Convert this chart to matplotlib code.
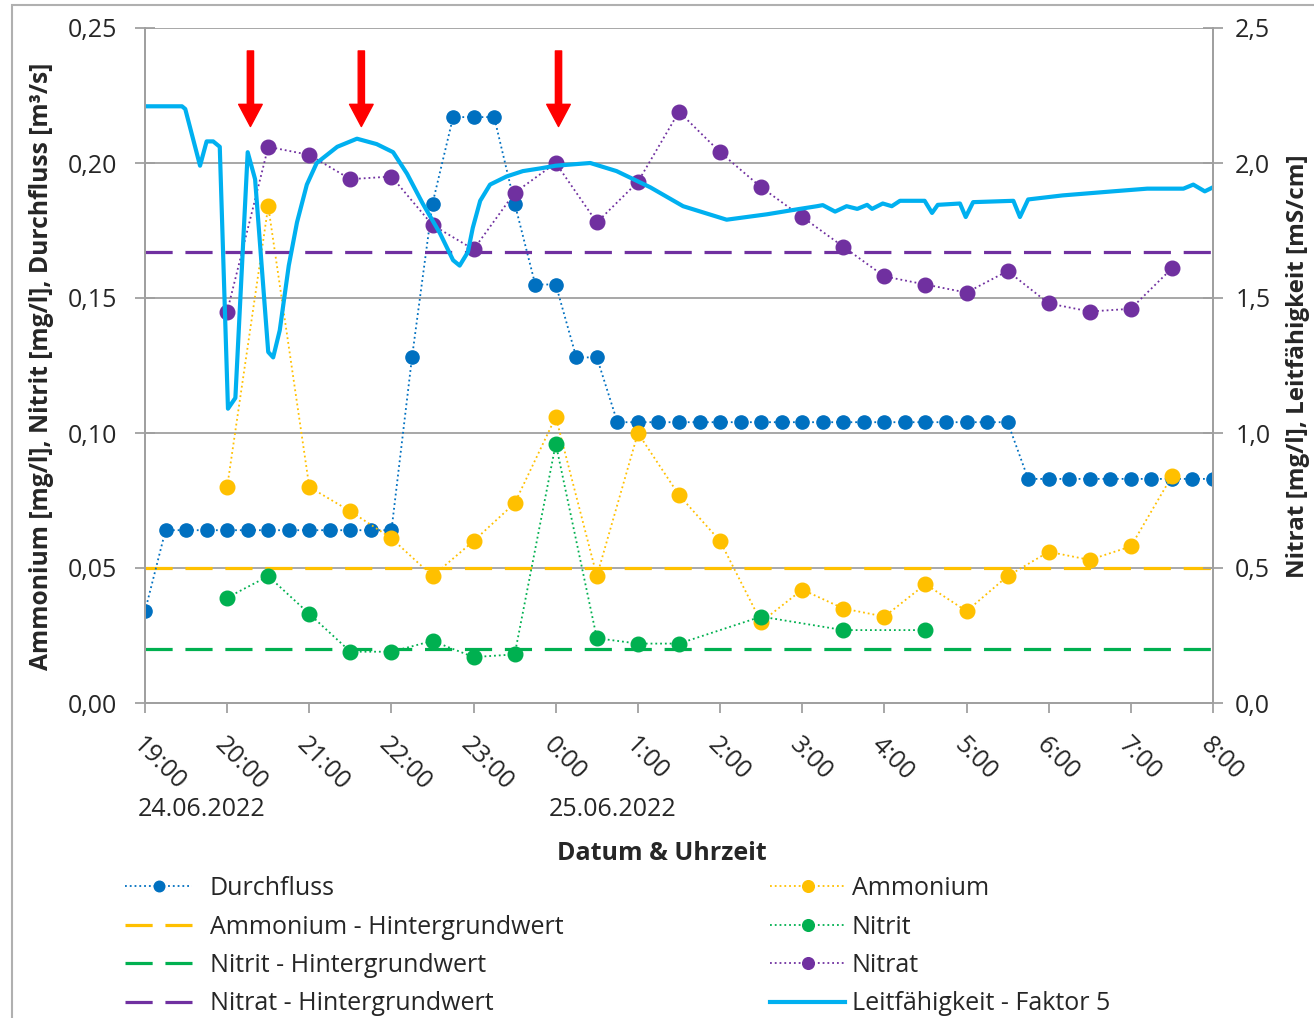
import matplotlib
matplotlib.use("Agg")
import matplotlib.pyplot as plt
from matplotlib.ticker import FuncFormatter, MultipleLocator
import matplotlib.dates as mdates
import pandas as pd

plt.rcParams['font.family'] = ['Open Sans', 'DejaVu Sans']
plt.rcParams['font.size'] = 18

# Durchfluss, alle 15 min von 19:00 bis 8:00
durchfluss_t = pd.date_range("2022-06-24 19:00", "2022-06-25 08:00", freq="15min")
durchfluss = ([0.034] + [0.064] * 12 + [0.128, 0.185, 0.217, 0.217, 0.217, 0.185,
              0.155, 0.155, 0.128, 0.128] + [0.104] * 20 + [0.083] * 10)

# Ammonium und Nitrat, halbstuendlich 20:00 bis 7:30
probe_t = pd.date_range("2022-06-24 20:00", "2022-06-25 07:30", freq="30min")
ammonium = [0.080, 0.184, 0.080, 0.071, 0.061, 0.047, 0.060, 0.074, 0.106, 0.047,
            0.100, 0.077, 0.060, 0.030, 0.042, 0.035, 0.032, 0.044, 0.034, 0.047,
            0.056, 0.053, 0.058, 0.084]
nitrat = [1.45, 2.06, 2.03, 1.94, 1.95, 1.77, 1.68, 1.89, 2.00, 1.78, 1.93, 2.19,
          2.04, 1.91, 1.80, 1.69, 1.58, 1.55, 1.52, 1.60, 1.48, 1.45, 1.46, 1.61]

nitrit_t = pd.to_datetime(["2022-06-24 20:00", "2022-06-24 20:30", "2022-06-24 21:00",
                           "2022-06-24 21:30", "2022-06-24 22:00", "2022-06-24 22:30",
                           "2022-06-24 23:00", "2022-06-24 23:30", "2022-06-25 00:00",
                           "2022-06-25 00:30", "2022-06-25 01:00", "2022-06-25 01:30",
                           "2022-06-25 02:30", "2022-06-25 03:30", "2022-06-25 04:30"])
nitrit = [0.039, 0.047, 0.033, 0.019, 0.019, 0.023, 0.017, 0.018, 0.096, 0.024,
          0.022, 0.022, 0.032, 0.027, 0.027]

# Leitfaehigkeit (x5), Stunden ab 19:00
leit_h = [0.0, 0.45, 0.49, 0.67, 0.75, 0.83, 0.91, 1.01, 1.10, 1.25, 1.34, 1.50, 1.56,
          1.64, 1.75, 1.85, 1.97, 2.09, 2.34, 2.58, 2.82, 3.02, 3.19, 3.38, 3.59, 3.75,
          3.83, 3.93, 3.99, 4.08, 4.20, 4.40, 4.60, 4.81, 5.00, 5.42, 5.74, 6.15, 6.55,
          7.08, 7.57, 7.97, 8.18, 8.25, 8.40, 8.54, 8.67, 8.79, 8.85, 8.98, 9.09, 9.19,
          9.49, 9.58, 9.65, 9.92, 9.99, 10.08, 10.57, 10.65, 10.75, 11.17, 11.78, 12.20,
          12.64, 12.76, 12.90, 13.0]
leit = [2.21, 2.21, 2.20, 1.99, 2.08, 2.08, 2.06, 1.09, 1.13, 2.04, 1.94, 1.30, 1.28,
        1.38, 1.62, 1.78, 1.92, 2.00, 2.06, 2.09, 2.07, 2.04, 1.96, 1.85, 1.74, 1.64,
        1.62, 1.67, 1.76, 1.86, 1.92, 1.95, 1.97, 1.98, 1.99, 2.00, 1.97, 1.91, 1.84,
        1.79, 1.81, 1.83, 1.84, 1.844, 1.82, 1.84, 1.83, 1.845, 1.83, 1.85, 1.84, 1.86,
        1.86, 1.815, 1.845, 1.85, 1.80, 1.855, 1.86, 1.80, 1.865, 1.88, 1.895, 1.905,
        1.905, 1.92, 1.895, 1.91]

# Hintergrundwerte
hg_ammonium = 0.05
hg_nitrit = 0.02
hg_nitrat = 1.67

# Zeitpunkte der Markierungspfeile
pfeil_t = pd.to_datetime(["2022-06-24 20:17", "2022-06-24 21:38", "2022-06-25 00:02"])

start = pd.Timestamp("2022-06-24 19:00")
ende = pd.Timestamp("2022-06-25 08:00")
leit_t = start + pd.to_timedelta(leit_h, unit="h")

c_blau = '#0070C0'
c_gelb = '#FFC000'
c_gruen = '#00B050'
c_lila = '#7030A0'
c_cyan = '#00B0F0'
grau = '#A0A0A0'
txt = '#262626'

fig = plt.figure(figsize=(13.14, 10.18), dpi=100)
ax = fig.add_axes([145 / 1314, 1 - 703 / 1018, (1213 - 145) / 1314, (703 - 28) / 1018])
ax2 = ax.twinx()

hg_x = [start, ende]
l_hg_a, = ax.plot(hg_x, [hg_ammonium] * 2, color=c_gelb, lw=2.3, dashes=(8.5, 4))
l_hg_n, = ax.plot(hg_x, [hg_nitrit] * 2, color=c_gruen, lw=2.3, dashes=(8.5, 4))
l_durch, = ax.plot(durchfluss_t, durchfluss, color=c_blau, ls=':', lw=1.3,
                   marker='o', ms=9.5, mec=c_blau)
l_amm, = ax.plot(probe_t, ammonium, color=c_gelb, ls=':', lw=1.3,
                 marker='o', ms=10.5, mec=c_gelb)
l_nit, = ax.plot(nitrit_t, nitrit, color=c_gruen, ls=':', lw=1.3,
                 marker='o', ms=10.5, mec=c_gruen)

l_hg_l, = ax2.plot(hg_x, [hg_nitrat] * 2, color=c_lila, lw=2.3, dashes=(8.5, 4))
l_nitrat, = ax2.plot(probe_t, nitrat, color=c_lila, ls=':', lw=1.3,
                     marker='o', ms=10.5, mec=c_lila)
l_leit, = ax2.plot(leit_t, leit, color=c_cyan, lw=3, solid_joinstyle='round')

for t in pfeil_t:
    ax.annotate('', xy=(t, 0.2135), xytext=(t, 0.2415),
                arrowprops=dict(facecolor='#FF0000', edgecolor='#FF0000',
                                width=4.5, headwidth=17, headlength=16))

ax.set_xlim(start, ende)
ax.set_ylim(0, 0.25)
ax2.set_ylim(0, 2.5)
ax.yaxis.set_major_locator(MultipleLocator(0.05))
ax2.yaxis.set_major_locator(MultipleLocator(0.5))
ax.yaxis.set_major_formatter(FuncFormatter(lambda v, p: f"{v:.2f}".replace('.', ',')))
ax2.yaxis.set_major_formatter(FuncFormatter(lambda v, p: f"{v:.1f}".replace('.', ',')))
ax.grid(axis='y', color=grau, lw=1.3)
ax.set_axisbelow(True)

ax.xaxis.set_major_locator(mdates.HourLocator())
ax.xaxis.set_major_formatter(FuncFormatter(
    lambda v, p: f"{mdates.num2date(v).hour}:{mdates.num2date(v).minute:02d}"))
for lbl in ax.get_xticklabels():
    lbl.set_rotation(-45)
    lbl.set_ha('left')
    lbl.set_va('top')
    lbl.set_rotation_mode('anchor')

for a in (ax, ax2):
    a.spines['top'].set_visible(False)
    for s in ['left', 'right', 'bottom']:
        a.spines[s].set_color(grau)
        a.spines[s].set_linewidth(1.3)

ax.tick_params(axis='y', direction='inout', length=14, color=grau, width=1.3,
               labelcolor=txt, pad=13)
ax2.tick_params(axis='y', direction='inout', length=14, color=grau, width=1.3,
                labelcolor=txt, pad=9)
ax.tick_params(axis='x', direction='out', length=7, color=grau, width=1.3,
               labelcolor=txt, pad=14)

# Datumszeile unter den Uhrzeiten
for t, d in [(start, "24.06.2022"), (pd.Timestamp("2022-06-25 00:00"), "25.06.2022")]:
    ax.annotate(d, xy=(t, 0), xycoords=('data', 'axes fraction'),
                xytext=(-7, -106), textcoords='offset pixels',
                ha='left', va='center', color=txt)

fig.text(662 / 1314, 1 - 853 / 1018, "Datum & Uhrzeit", ha='center', va='center',
         fontweight='bold', color=txt)
fig.text(42 / 1314, 1 - 366 / 1018,
         "Ammonium [mg/l], Nitrit [mg/l], Durchfluss [m³/s]",
         rotation=90, ha='center', va='center', fontweight='bold', color=txt,
         fontsize=17.7)
fig.text(1298 / 1314, 1 - 366 / 1018, "Nitrat [mg/l], Leitfähigkeit [mS/cm]",
         rotation=90, ha='center', va='center', fontweight='bold', color=txt,
         fontsize=17.5)

leg1 = fig.legend([l_durch, l_hg_a, l_hg_n, l_hg_l],
                  ["Durchfluss", "Ammonium - Hintergrundwert",
                   "Nitrit - Hintergrundwert", "Nitrat - Hintergrundwert"],
                  loc='upper left', bbox_to_anchor=(125 / 1314, 1 - 876 / 1018),
                  frameon=False, handlelength=2.68, handletextpad=0.72,
                  labelspacing=0.54, borderaxespad=0, borderpad=0, numpoints=1,
                  markerscale=0.8)
leg2 = fig.legend([l_amm, l_nit, l_nitrat, l_leit],
                  ["Ammonium", "Nitrit", "Nitrat", "Leitfähigkeit - Faktor 5"],
                  loc='upper left', bbox_to_anchor=(770 / 1314, 1 - 876 / 1018),
                  frameon=False, handlelength=3.0, handletextpad=0.28,
                  labelspacing=0.54, borderaxespad=0, borderpad=0, numpoints=1,
                  markerscale=0.8)
for leg in (leg1, leg2):
    for t in leg.get_texts():
        t.set_color(txt)

# Rahmen um das Diagramm
fig.add_artist(plt.Rectangle((12 / 1314, -0.02), 1.0, 1 - 5 / 1018 + 0.02,
                             transform=fig.transFigure, fill=False,
                             ec='#B0B0B0', lw=1.5))

fig.savefig("out.png", dpi=100)
